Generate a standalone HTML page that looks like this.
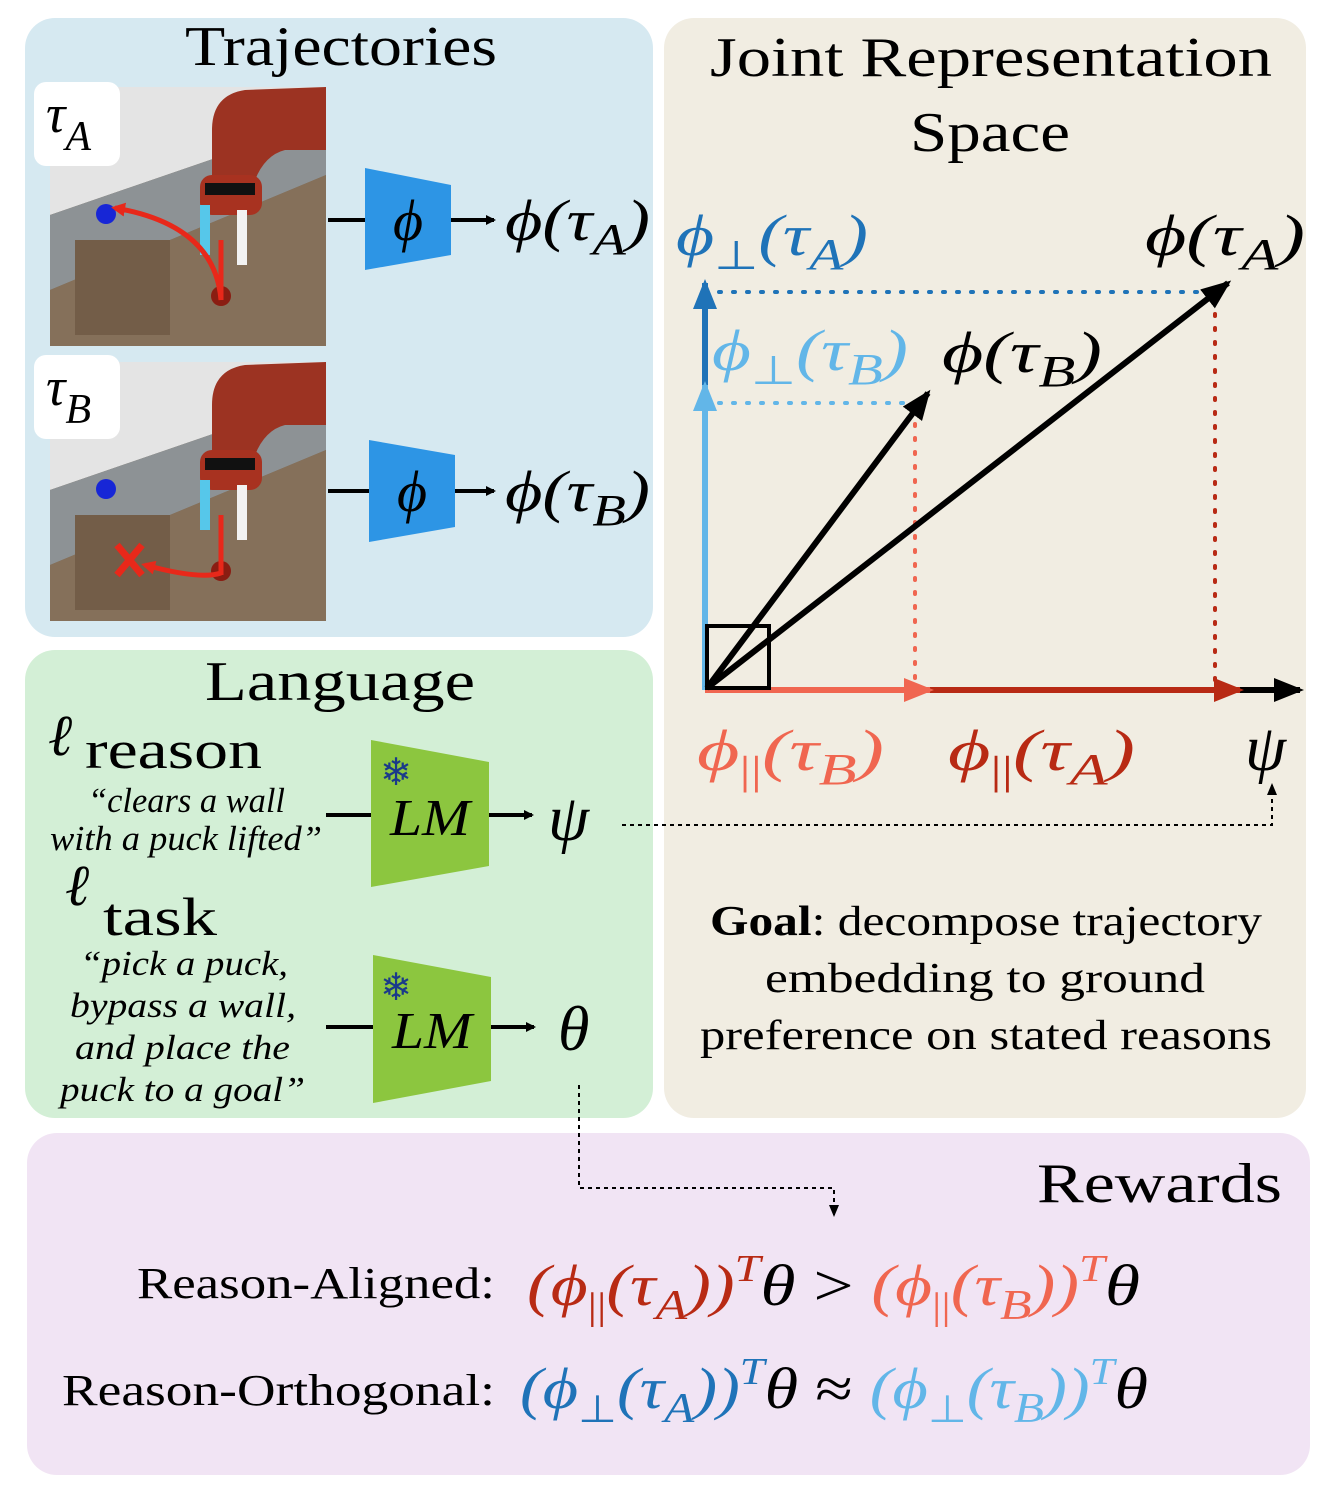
<!DOCTYPE html>
<html><head><meta charset="utf-8"><style>
html,body{margin:0;padding:0;background:#fff}
svg{display:block}
text{font-family:"Liberation Serif",serif}
.m{font-style:italic}
</style></head><body>
<svg width="1326" height="1488" viewBox="0 0 1326 1488" xmlns="http://www.w3.org/2000/svg">
<defs>
<marker id="ak" markerWidth="10" markerHeight="10" refX="8" refY="5" orient="auto" markerUnits="userSpaceOnUse"><path d="M0,0 L10,5 L0,10z" fill="#000"/></marker>
<marker id="akL" markerWidth="30" markerHeight="24" refX="26" refY="12" orient="auto" markerUnits="userSpaceOnUse"><path d="M0,0 L30,12 L0,24z" fill="#000"/></marker>
<marker id="aR" markerWidth="30" markerHeight="24" refX="26" refY="12" orient="auto" markerUnits="userSpaceOnUse"><path d="M0,0 L30,12 L0,24z" fill="#f06650"/></marker>
<marker id="aDR" markerWidth="30" markerHeight="24" refX="26" refY="12" orient="auto" markerUnits="userSpaceOnUse"><path d="M0,0 L30,12 L0,24z" fill="#b82a14"/></marker>
<marker id="aB" markerWidth="30" markerHeight="24" refX="26" refY="12" orient="auto" markerUnits="userSpaceOnUse"><path d="M0,0 L30,12 L0,24z" fill="#1f73b8"/></marker>
<marker id="aLB" markerWidth="30" markerHeight="24" refX="26" refY="12" orient="auto" markerUnits="userSpaceOnUse"><path d="M0,0 L30,12 L0,24z" fill="#62b6e8"/></marker>
<marker id="aS" markerWidth="12" markerHeight="10" refX="10" refY="5" orient="auto" markerUnits="userSpaceOnUse"><path d="M0,0 L12,5 L0,10z" fill="#000"/></marker>
<marker id="aRed" markerWidth="14" markerHeight="14" refX="10" refY="7" orient="auto" markerUnits="userSpaceOnUse"><path d="M0,0 L14,7 L0,14z" fill="#e8281a"/></marker>
</defs>
<rect x="25" y="18" width="628" height="619" rx="30" fill="#d6e9f1"/>
<rect x="664" y="18" width="642" height="1100" rx="30" fill="#f1ede2"/>
<rect x="25" y="650" width="628" height="468" rx="30" fill="#d3efd6"/>
<rect x="27" y="1133" width="1283" height="342" rx="30" fill="#f1e4f4"/>

<text x="185" y="65" font-size="56" textLength="312" lengthAdjust="spacingAndGlyphs">Trajectories</text>
<text x="710" y="76" font-size="56" textLength="562" lengthAdjust="spacingAndGlyphs">Joint Representation</text>
<text x="910" y="151" font-size="56" textLength="160" lengthAdjust="spacingAndGlyphs">Space</text>
<text x="205" y="700" font-size="56" textLength="270" lengthAdjust="spacingAndGlyphs">Language</text>
<text x="1037" y="1202" font-size="56" textLength="245" lengthAdjust="spacingAndGlyphs">Rewards</text>

<g id="img">
<rect x="50" y="87" width="276" height="259" fill="#7d6a55"/>
<polygon points="50,87 326,87 326,120 50,215" fill="#e4e4e4"/>
<polygon points="50,215 326,120 326,175 50,290" fill="#8d9295"/>
<polygon points="50,290 326,175 326,346 50,346" fill="#85705a"/>
<rect x="75" y="240" width="95" height="95" fill="#735d48"/>
<path d="M212,130 Q212,95 245,90 L326,87 L326,150 L285,150 Q265,155 255,180 L212,180 Z" fill="#9c3322"/>
<rect x="200" y="175" width="62" height="40" rx="12" fill="#a83220"/>
<rect x="205" y="183" width="50" height="12" fill="#111"/>
<rect x="200" y="205" width="10" height="50" fill="#56c7ea"/>
<rect x="237" y="210" width="10" height="55" fill="#f2f2f2"/>
<circle cx="106" cy="214" r="10" fill="#1726d6"/>
<circle cx="221" cy="296" r="10" fill="#8a1d12"/>
</g>
<path d="M221,300 Q215,225 115,208" stroke="#e8281a" stroke-width="5" fill="none" marker-end="url(#aRed)"/>
<line x1="221" y1="240" x2="221" y2="300" stroke="#e8281a" stroke-width="5"/>
<use href="#img" y="275"/>
<path d="M221,573 Q200,580 145,565" stroke="#e8281a" stroke-width="5" fill="none" marker-end="url(#aRed)"/>
<line x1="221" y1="515" x2="221" y2="575" stroke="#e8281a" stroke-width="5"/>
<path d="M117,545 L142,575 M142,545 L117,575" stroke="#e8281a" stroke-width="7"/>
<rect x="34" y="82" width="86" height="84" rx="12" fill="#fff"/>
<rect x="34" y="355" width="86" height="84" rx="12" fill="#fff"/>
<text x="46" y="132" font-size="54" class="m">τ<tspan font-size="42" dy="18">A</tspan></text>
<text x="46" y="405" font-size="54" class="m">τ<tspan font-size="42" dy="18">B</tspan></text>

<line x1="328" y1="220" x2="365" y2="220" stroke="#000" stroke-width="4"/>
<polygon points="365,168 451,185 451,255 365,270" fill="#2d95e5"/>
<text x="408" y="240" font-size="58" class="m" text-anchor="middle">ϕ</text>
<line x1="451" y1="220" x2="494" y2="220" stroke="#000" stroke-width="4" marker-end="url(#ak)"/>
<text x="505" y="240" font-size="58" class="m" textLength="145" lengthAdjust="spacingAndGlyphs">ϕ(τ<tspan font-size="44" dy="14">A</tspan><tspan dy="-14">)</tspan></text>
<line x1="328" y1="491" x2="369" y2="491" stroke="#000" stroke-width="4"/>
<polygon points="369,440 455,455 455,527 369,542" fill="#2d95e5"/>
<text x="412" y="511" font-size="58" class="m" text-anchor="middle">ϕ</text>
<line x1="455" y1="491" x2="494" y2="491" stroke="#000" stroke-width="4" marker-end="url(#ak)"/>
<text x="505" y="511" font-size="58" class="m" textLength="145" lengthAdjust="spacingAndGlyphs">ϕ(τ<tspan font-size="44" dy="14">B</tspan><tspan dy="-14">)</tspan></text>

<text x="48" y="755" font-size="58" class="m">ℓ</text>
<text x="85" y="768" font-size="54" textLength="177" lengthAdjust="spacingAndGlyphs">reason</text>
<text x="88" y="812" font-size="35" class="m" textLength="197" lengthAdjust="spacingAndGlyphs">“clears a wall</text>
<text x="50" y="850" font-size="35" class="m" textLength="272" lengthAdjust="spacingAndGlyphs">with a puck lifted”</text>
<text x="65" y="905" font-size="58" class="m">ℓ</text>
<text x="103" y="935" font-size="54" textLength="114" lengthAdjust="spacingAndGlyphs">task</text>
<text x="80" y="975" font-size="35" class="m" textLength="208" lengthAdjust="spacingAndGlyphs">“pick a puck,</text>
<text x="70" y="1017" font-size="35" class="m" textLength="226" lengthAdjust="spacingAndGlyphs">bypass a wall,</text>
<text x="75" y="1059" font-size="35" class="m" textLength="215" lengthAdjust="spacingAndGlyphs">and place the</text>
<text x="60" y="1101" font-size="35" class="m" textLength="245" lengthAdjust="spacingAndGlyphs">puck to a goal”</text>

<line x1="326" y1="815" x2="371" y2="815" stroke="#000" stroke-width="4"/>
<polygon points="371,740 489,762 489,866 371,887" fill="#8cc63f"/>
<text x="390" y="835" font-size="52" class="m" textLength="80" lengthAdjust="spacingAndGlyphs">LM</text>
<text x="396" y="785" font-size="38" fill="#1a3a8a" text-anchor="middle">❄</text>
<line x1="489" y1="815" x2="532" y2="815" stroke="#000" stroke-width="4" marker-end="url(#ak)"/>
<text x="548" y="840" font-size="66" class="m">ψ</text>
<line x1="326" y1="1027" x2="373" y2="1027" stroke="#000" stroke-width="4"/>
<polygon points="373,955 491,977 491,1081 373,1103" fill="#8cc63f"/>
<text x="392" y="1048" font-size="52" class="m" textLength="80" lengthAdjust="spacingAndGlyphs">LM</text>
<text x="396" y="1000" font-size="38" fill="#1a3a8a" text-anchor="middle">❄</text>
<line x1="491" y1="1027" x2="534" y2="1027" stroke="#000" stroke-width="4" marker-end="url(#ak)"/>
<text x="558" y="1050" font-size="64" class="m">θ</text>

<path d="M622,825 L1272,825 L1272,785" stroke="#000" stroke-width="2" stroke-dasharray="4,4" fill="none" marker-end="url(#aS)"/>
<path d="M579,1085 L579,1188 L834,1188 L834,1215" stroke="#000" stroke-width="2" stroke-dasharray="4,4" fill="none" marker-end="url(#aS)"/>

<line x1="705" y1="292" x2="1215" y2="292" stroke="#1f73b8" stroke-width="4" stroke-dasharray="2,12" stroke-linecap="round"/>
<line x1="705" y1="403" x2="905" y2="403" stroke="#62b6e8" stroke-width="4" stroke-dasharray="2,12" stroke-linecap="round"/>
<line x1="915" y1="410" x2="915" y2="690" stroke="#f06650" stroke-width="4" stroke-dasharray="2,12" stroke-linecap="round"/>
<line x1="1215" y1="300" x2="1215" y2="690" stroke="#b82a14" stroke-width="4" stroke-dasharray="2,12" stroke-linecap="round"/>
<line x1="1230" y1="690" x2="1300" y2="690" stroke="#000" stroke-width="6" marker-end="url(#akL)"/>
<line x1="705" y1="690" x2="1240" y2="690" stroke="#b82a14" stroke-width="6" marker-end="url(#aDR)"/>
<line x1="705" y1="690" x2="930" y2="690" stroke="#f06650" stroke-width="6" marker-end="url(#aR)"/>
<line x1="705" y1="690" x2="705" y2="283" stroke="#1f73b8" stroke-width="6" marker-end="url(#aB)"/>
<line x1="705" y1="690" x2="705" y2="385" stroke="#62b6e8" stroke-width="6" marker-end="url(#aLB)"/>
<rect x="707" y="626" width="62" height="62" fill="none" stroke="#000" stroke-width="4"/>
<line x1="707" y1="688" x2="928" y2="393" stroke="#000" stroke-width="6" marker-end="url(#akL)"/>
<line x1="707" y1="688" x2="1228" y2="283" stroke="#000" stroke-width="6" marker-end="url(#akL)"/>

<text x="676" y="255" font-size="58" class="m" fill="#1f73b8" textLength="192" lengthAdjust="spacingAndGlyphs">ϕ<tspan font-size="40" dy="14" font-style="normal">⊥</tspan><tspan dy="-14">(τ</tspan><tspan font-size="44" dy="14">A</tspan><tspan dy="-14">)</tspan></text>
<text x="712" y="370" font-size="58" class="m" fill="#62b6e8" textLength="196" lengthAdjust="spacingAndGlyphs">ϕ<tspan font-size="40" dy="14" font-style="normal">⊥</tspan><tspan dy="-14">(τ</tspan><tspan font-size="44" dy="14">B</tspan><tspan dy="-14">)</tspan></text>
<text x="1145" y="255" font-size="58" class="m" textLength="160" lengthAdjust="spacingAndGlyphs">ϕ(τ<tspan font-size="44" dy="14">A</tspan><tspan dy="-14">)</tspan></text>
<text x="942" y="372" font-size="58" class="m" textLength="160" lengthAdjust="spacingAndGlyphs">ϕ(τ<tspan font-size="44" dy="14">B</tspan><tspan dy="-14">)</tspan></text>
<text x="697" y="770" font-size="58" class="m" fill="#f06650" textLength="187" lengthAdjust="spacingAndGlyphs">ϕ<tspan font-size="40" dy="14" font-style="normal">||</tspan><tspan dy="-14">(τ</tspan><tspan font-size="44" dy="14">B</tspan><tspan dy="-14">)</tspan></text>
<text x="948" y="770" font-size="58" class="m" fill="#b82a14" textLength="187" lengthAdjust="spacingAndGlyphs">ϕ<tspan font-size="40" dy="14" font-style="normal">||</tspan><tspan dy="-14">(τ</tspan><tspan font-size="44" dy="14">A</tspan><tspan dy="-14">)</tspan></text>
<text x="1245" y="770" font-size="66" class="m">ψ</text>

<text x="710" y="935" font-size="42" textLength="552" lengthAdjust="spacingAndGlyphs"><tspan font-weight="bold">Goal</tspan>: decompose trajectory</text>
<text x="765" y="992" font-size="42" textLength="440" lengthAdjust="spacingAndGlyphs">embedding to ground</text>
<text x="700" y="1049" font-size="42" textLength="572" lengthAdjust="spacingAndGlyphs">preference on stated reasons</text>

<text x="137" y="1298" font-size="44" textLength="358" lengthAdjust="spacingAndGlyphs">Reason-Aligned:</text>
<text x="527" y="1305" font-size="58" class="m" textLength="613" lengthAdjust="spacingAndGlyphs"><tspan fill="#b82a14">(ϕ<tspan font-size="38" dy="14" font-style="normal">||</tspan><tspan dy="-14">(τ</tspan><tspan font-size="42" dy="14">A</tspan><tspan dy="-14">))</tspan><tspan font-size="38" dy="-24">T</tspan></tspan><tspan fill="#000" dy="24">θ</tspan><tspan font-style="normal"> &gt; </tspan><tspan fill="#f06650">(ϕ<tspan font-size="38" dy="14" font-style="normal">||</tspan><tspan dy="-14">(τ</tspan><tspan font-size="42" dy="14">B</tspan><tspan dy="-14">))</tspan><tspan font-size="38" dy="-24">T</tspan></tspan><tspan dy="24">θ</tspan></text>
<text x="62" y="1405" font-size="44" textLength="433" lengthAdjust="spacingAndGlyphs">Reason-Orthogonal:</text>
<text x="520" y="1408" font-size="58" class="m" textLength="628" lengthAdjust="spacingAndGlyphs"><tspan fill="#1f73b8">(ϕ<tspan font-size="38" dy="14" font-style="normal">⊥</tspan><tspan dy="-14">(τ</tspan><tspan font-size="42" dy="14">A</tspan><tspan dy="-14">))</tspan><tspan font-size="38" dy="-24">T</tspan></tspan><tspan fill="#000" dy="24">θ</tspan><tspan font-style="normal"> ≈ </tspan><tspan fill="#62b6e8">(ϕ<tspan font-size="38" dy="14" font-style="normal">⊥</tspan><tspan dy="-14">(τ</tspan><tspan font-size="42" dy="14">B</tspan><tspan dy="-14">))</tspan><tspan font-size="38" dy="-24">T</tspan></tspan><tspan dy="24">θ</tspan></text>
</svg>
</body></html>
